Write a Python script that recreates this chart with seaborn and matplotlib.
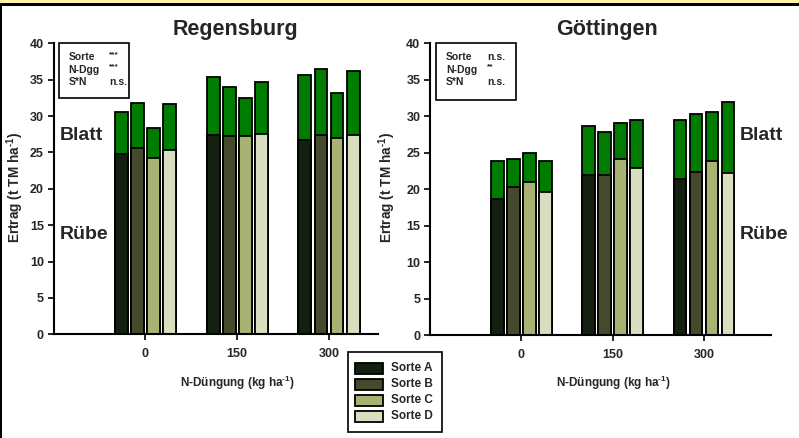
import pandas as pd
import seaborn as sns
import matplotlib.pyplot as plt
from matplotlib.patches import Rectangle

# ---- data -------------------------------------------------------------
sorten = ["Sorte A", "Sorte B", "Sorte C", "Sorte D"]
n_stufen = [0, 150, 300]
x_ticks = [0, 150, 300]
y_ticks = [0, 5, 10, 15, 20, 25, 30, 35, 40]

# Regensburg: rows = N level, columns = Sorte A..D (t TM/ha)
reg_ruebe = [[24.8, 25.6, 24.3, 25.4],
             [27.4, 27.2, 27.2, 27.6],
             [26.7, 27.4, 27.0, 27.4]]
reg_blatt = [[5.7, 6.2, 4.1, 6.2],
             [7.9, 6.8, 5.3, 7.1],
             [8.9, 9.1, 6.2, 8.8]]

# Goettingen
goe_ruebe = [[18.6, 20.3, 21.0, 19.6],
             [22.0, 22.0, 24.1, 22.9],
             [21.4, 22.4, 23.9, 22.2]]
goe_blatt = [[5.2, 3.9, 3.9, 4.3],
             [6.6, 5.9, 5.0, 6.6],
             [8.1, 7.9, 6.7, 9.8]]

reg_stats = [("Sorte", "***"), ("N-Dgg", "***"), ("S*N", "n.s.")]
goe_stats = [("Sorte", "n.s."), ("N-Dgg", "**"), ("S*N", "n.s.")]

# ---- styling ----------------------------------------------------------
sorte_colors = ["#13200f", "#444a2b", "#a8b272", "#d8dec0"]
blatt_color = "#007c00"

W, H = 799, 438
sns.set_style("ticks")
plt.rcParams["font.family"] = ["Liberation Sans", "DejaVu Sans"]
plt.rcParams["font.weight"] = "bold"
plt.rcParams["mathtext.fontset"] = "custom"
plt.rcParams["mathtext.rm"] = "Liberation Sans:bold"
plt.rcParams["mathtext.it"] = "Liberation Sans:bold"
plt.rcParams["mathtext.bf"] = "Liberation Sans:bold"

UNIT = r"(t TM ha$^{\text{-1}}$)"
NUNIT = r"(kg ha$^{\text{-1}}$)"


def fx(px):
    return px / W


def fy(py):
    return 1 - py / H


def long_table(ruebe, blatt):
    rows = []
    for i, n in enumerate(n_stufen):
        for j, s in enumerate(sorten):
            rows.append({"N": n, "Sorte": s,
                         "Ruebe": ruebe[i][j],
                         "Gesamt": ruebe[i][j] + blatt[i][j]})
    return pd.DataFrame(rows)


def fig_box(l, t, r, b, lw=1.2, face="white", z=5):
    fig.patches.append(Rectangle((fx(l), fy(b)), fx(r) - fx(l), (b - t) / H,
                                 transform=fig.transFigure, facecolor=face,
                                 edgecolor="black", linewidth=lw, zorder=z))


fig = plt.figure(figsize=(W / 100, H / 100), dpi=100)
fig.patch.set_facecolor("white")

panels = [
    dict(name="Regensburg", ruebe=reg_ruebe, blatt=reg_blatt, stats=reg_stats,
         box=(53.5, 43.3, 378, 334.3), xlim=(-150, 380),
         title_x=235.5, xlabel_x=237.3, ylabel_x=15,
         stat_box=(58.7, 43.3, 129, 98), stat_cols=(68.3, 109.3),
         part_x=60),
    dict(name="Göttingen", ruebe=goe_ruebe, blatt=goe_blatt, stats=goe_stats,
         box=(430, 43.3, 771, 335), xlim=(-150, 410),
         title_x=606.7, xlabel_x=613, ylabel_x=386.7,
         stat_box=(436, 43.3, 516, 100), stat_cols=(446, 487.3),
         part_x=740),
]

for p in panels:
    l, t, r, b = p["box"]
    ax = fig.add_axes([fx(l), fy(b), fx(r) - fx(l), (b - t) / H])
    df = long_table(p["ruebe"], p["blatt"])
    common = dict(data=df, x="N", hue="Sorte", hue_order=sorten,
                  native_scale=True, dodge=True, width=0.7, gap=0.2,
                  errorbar=None, saturation=1, edgecolor="black",
                  linewidth=1.3, legend=False, ax=ax)
    # leaf on top: full bar height in green, beet part drawn over it
    sns.barplot(y="Gesamt", palette={s: blatt_color for s in sorten}, **common)
    sns.barplot(y="Ruebe", palette=dict(zip(sorten, sorte_colors)), **common)

    ax.set_xlim(*p["xlim"])
    ax.set_ylim(0, 40)
    ax.set_xticks(x_ticks)
    ax.set_yticks(y_ticks)
    ax.set_xlabel("")
    ax.set_ylabel("")
    sns.despine(ax=ax)
    for side in ("left", "bottom"):
        ax.spines[side].set_linewidth(1.5)
        ax.spines[side].set_color("black")
    ax.tick_params(axis="both", direction="out", length=4, width=1.2,
                   color="black", labelsize=9)
    ax.tick_params(axis="x", pad=6)
    ax.tick_params(axis="y", pad=3)
    for lab in ax.get_xticklabels() + ax.get_yticklabels():
        lab.set_fontweight("bold")
    ax.set_facecolor("white")

    fig.text(fx(p["title_x"]), fy(29.7), p["name"], ha="center", va="center",
             fontsize=15.5, fontweight="bold")
    fig.text(fx(p["xlabel_x"]), fy(383), "N-Düngung " + NUNIT,
             ha="center", va="center", fontsize=8.5, fontweight="bold")
    fig.text(fx(p["ylabel_x"]), fy(187.5), "Ertrag " + UNIT,
             ha="center", va="center", rotation=90, fontsize=9.8,
             fontweight="bold")
    fig.text(fx(p["part_x"]), fy(136), "Blatt", ha="left", va="center",
             fontsize=14, fontweight="bold")
    fig.text(fx(p["part_x"]), fy(234.3), "Rübe", ha="left", va="center",
             fontsize=14, fontweight="bold")

    # significance box
    fig_box(*p["stat_box"])
    for k, (factor, sig) in enumerate(p["stats"]):
        yy = fy(57.3 + k * 12.4)
        fig.text(fx(p["stat_cols"][0]), yy, factor, ha="left", va="center",
                 fontsize=7.5, fontweight="bold", zorder=6)
        if sig.startswith("*"):
            fig.text(fx(p["stat_cols"][1]), yy + 3 / H, sig, ha="left",
                     va="center", fontsize=6, fontweight="bold", zorder=6)
        else:
            fig.text(fx(p["stat_cols"][1]), yy, sig, ha="left", va="center",
                     fontsize=7.5, fontweight="bold", zorder=6)

# shared key of the varieties
fig_box(347.7, 351.7, 441.7, 431.7)
for k, (s, c) in enumerate(zip(sorten, sorte_colors)):
    yc = 368.3 + k * 15.9
    fig_box(355, yc - 5.5, 383.3, yc + 5.5, lw=1.3, face=c, z=6)
    fig.text(fx(390.7), fy(yc), s, ha="left", va="center", fontsize=8.5,
             fontweight="bold", zorder=6)

# page frame: yellow strip, black rule on top and at the left edge
fig.patches.append(Rectangle((0, fy(3.4)), 1, 3.4 / H, transform=fig.transFigure,
                             facecolor="#fbf5a4", edgecolor="none", zorder=10))
fig.patches.append(Rectangle((0, fy(6.2)), 1, 2.8 / H, transform=fig.transFigure,
                             facecolor="black", edgecolor="none", zorder=10))
fig.patches.append(Rectangle((0, 0), 2.3 / W, fy(3.4), transform=fig.transFigure,
                             facecolor="black", edgecolor="none", zorder=10))

fig.savefig("out.png", dpi=100, facecolor="white")
